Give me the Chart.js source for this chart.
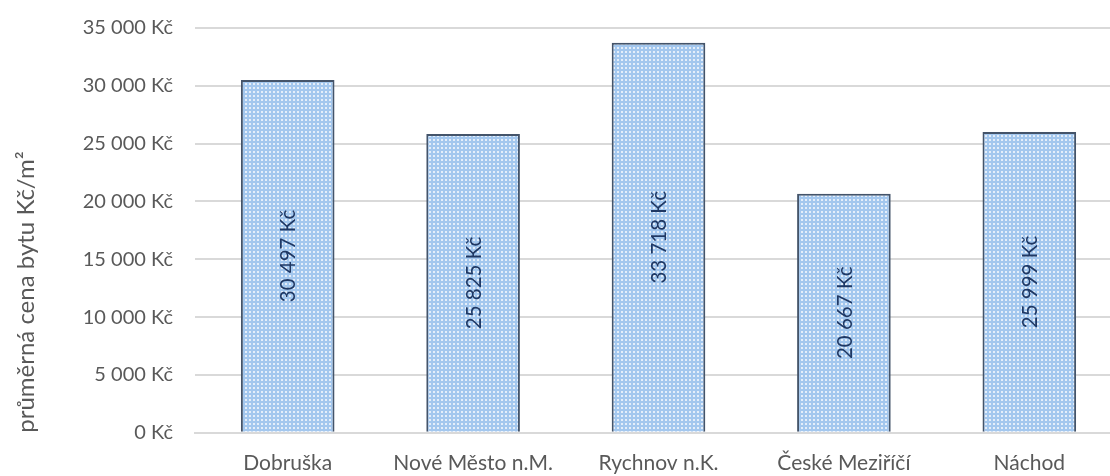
<!DOCTYPE html>
<html>
<head>
<meta charset="utf-8">
<script src="https://cdn.jsdelivr.net/npm/chart.js@4"></script>
<style>
  html, body { margin: 0; padding: 0; background: #fff; overflow: hidden; }
  #wrap { width: 1122px; height: 500px; margin-top: -6px; }
</style>
</head>
<body>
<div id="wrap"><canvas id="chart" width="1122" height="500"></canvas></div>
<script>
const categories = ['Dobruška', 'Nové Město n.M.', 'Rychnov n.K.', 'České Meziříčí', 'Náchod'];
const prices = [30497, 25825, 33718, 20667, 25999];
const yTicks = [0, 5000, 10000, 15000, 20000, 25000, 30000, 35000];
const yTitle = 'průměrná cena bytu Kč/m²';

const FONT = 'Lato, "Open Sans", sans-serif';

function fmtKc(v) {
  return String(Math.round(v)).replace(/\B(?=(\d{3})+(?!\d))/g, ' ') + ' Kč';
}

// dotted fill like the Excel pattern
function makePattern() {
  const c = document.createElement('canvas');
  c.width = 4; c.height = 4;
  const g = c.getContext('2d');
  g.fillStyle = '#a3c7ee';
  g.fillRect(0, 0, 4, 4);
  g.fillStyle = '#e4eefa';
  g.fillRect(1, 1, 2, 2);
  return g.createPattern(c, 'repeat');
}

// vertical value labels in the middle of each bar
const barLabels = {
  id: 'barLabels',
  afterDatasetsDraw(chart) {
    const ctx = chart.ctx;
    const meta = chart.getDatasetMeta(0);
    ctx.save();
    ctx.font = '20.5px ' + FONT;
    ctx.fillStyle = '#1f3864';
    ctx.textAlign = 'center';
    ctx.textBaseline = 'middle';
    meta.data.forEach((bar, i) => {
      const p = bar.getProps(['x', 'y', 'base'], true);
      ctx.save();
      ctx.translate(p.x + 1, (p.y + p.base) / 2);
      ctx.rotate(-Math.PI / 2);
      ctx.fillText(fmtKc(prices[i]), 0, 0);
      ctx.restore();
    });
    ctx.restore();
  }
};

new Chart(document.getElementById('chart'), {
  type: 'bar',
  data: {
    labels: categories,
    datasets: [{
      data: prices,
      backgroundColor: makePattern(),
      borderColor: '#44546a',
      borderWidth: { left: 2, right: 2, top: 2, bottom: 0 },
      borderSkipped: false,
      categoryPercentage: 1,
      barPercentage: 0.505
    }]
  },
  options: {
    responsive: false,
    animation: false,
    layout: { padding: { top: 8, right: 0, bottom: 0, left: 0 } },
    plugins: { legend: { display: false }, tooltip: { enabled: false } },
    scales: {
      x: {
        grid: { display: false, drawTicks: false },
        border: { color: '#d9d9d9', width: 2 },
        ticks: { color: '#595959', font: { family: FONT, size: 21 }, padding: 18, maxRotation: 0 }
      },
      y: {
        min: 0,
        max: 35000,
        afterBuildTicks: (s) => { s.ticks = yTicks.map(v => ({ value: v })); },
        afterFit: (s) => { s.width = 195; },
        grid: { color: '#d9d9d9', lineWidth: 2, drawTicks: false },
        border: { display: false },
        ticks: { color: '#595959', font: { family: FONT, size: 20 }, padding: 22, callback: (v) => fmtKc(v) },
        title: {
          display: true,
          text: yTitle,
          align: 'start',
          color: '#595959',
          font: { family: FONT, size: 24 },
          padding: { top: 12, bottom: 0 }
        }
      }
    }
  },
  plugins: [barLabels]
});
</script>
</body>
</html>
